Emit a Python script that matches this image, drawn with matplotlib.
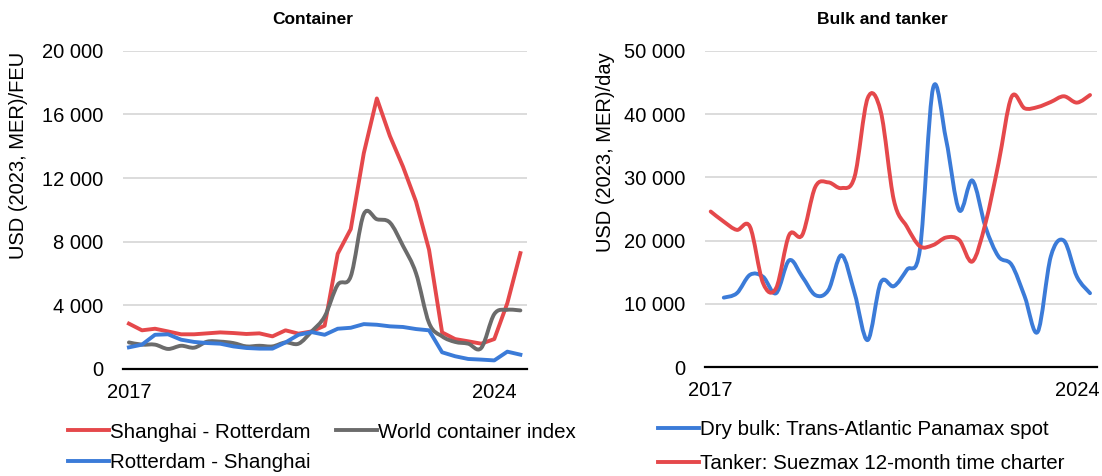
import numpy as np
import matplotlib.pyplot as plt
from matplotlib.path import Path
from matplotlib.patches import PathPatch
from matplotlib.lines import Line2D
from matplotlib.ticker import FuncFormatter

plt.rcParams['font.family'] = ['Liberation Sans', 'DejaVu Sans']

# Quarterly data, 2017Q1 onwards
years_label = ['2017', '2024']
label_idx = [0, 28]

# Container freight rates, USD (2023, MER)/FEU, 2017Q1 - 2024Q3
shanghai_rotterdam = [2850, 2430, 2530, 2360, 2180, 2180, 2240, 2300, 2260, 2200,
                      2240, 2050, 2430, 2220, 2360, 2720, 7240, 8790, 13560, 17000,
                      14640, 12720, 10520, 7490, 2300, 1880, 1740, 1590, 1880, 4140, 7280]
rotterdam_shanghai = [1360, 1530, 2150, 2180, 1840, 1700, 1630, 1590, 1420, 1320,
                      1280, 1280, 1670, 2150, 2320, 2150, 2530, 2590, 2820, 2780,
                      2680, 2640, 2510, 2430, 1050, 800, 630, 590, 540, 1090, 900]
world_container = [1670, 1530, 1530, 1260, 1460, 1340, 1720, 1720, 1630, 1420,
                   1460, 1420, 1670, 1590, 2360, 3300, 5290, 5820, 9730, 9410,
                   9200, 7740, 6020, 2890, 2050, 1700, 1590, 1320, 3450, 3720, 3680]

# Bulk and tanker, USD (2023, MER)/day, 2017Q1 - 2024Q2 (dry bulk from 2017Q2)
dry_bulk = [11000, 11700, 14600, 14300, 11700, 16900, 14300, 11400, 12200, 17700,
            11700, 4300, 13400, 12800, 15400, 18700, 44100, 35900, 24800, 29500,
            22200, 17500, 16200, 11200, 5600, 17500, 20000, 14300, 11700]
tanker = [24600, 23000, 21700, 22200, 13300, 12500, 20900, 20900, 28500, 29200,
          28300, 30100, 42500, 40400, 26400, 22200, 19100, 19300, 20500, 20100,
          16700, 22700, 32200, 42700, 40900, 41100, 41900, 42800, 41800, 43000]

red = '#E5484B'
blue = '#3B7BD8'
gray = '#6B6B6B'
lw = 2.8
fs = 14.5


def smooth_path(x, y):
    # Bezier path through the points (spreadsheet-style smoothed line)
    pts = np.column_stack([x, y]).astype(float)
    n = len(pts)
    verts = [pts[0]]
    codes = [Path.MOVETO]
    for i in range(n - 1):
        p0 = pts[i - 1] if i > 0 else pts[i]
        p1 = pts[i]
        p2 = pts[i + 1]
        p3 = pts[i + 2] if i + 2 < n else pts[i + 1]
        verts += [p1 + (p2 - p0) / 6, p2 - (p3 - p1) / 6, p2]
        codes += [Path.CURVE4] * 3
    return Path(verts, codes)


def add_smooth(ax, x, y, color):
    ax.add_patch(PathPatch(smooth_path(x, y), fill=False, edgecolor=color, lw=lw,
                           capstyle='round', joinstyle='round', zorder=3))


def style(ax, ymax, step):
    ax.set_ylim(0, ymax)
    ax.set_yticks(np.arange(0, ymax + 1, step))
    ax.yaxis.set_major_formatter(FuncFormatter(lambda v, p: f"{int(v):,}".replace(",", " ")))
    ax.grid(axis='y', color='#D9D9D9', lw=1.3)
    ax.set_axisbelow(True)
    for s in ['top', 'right', 'left']:
        ax.spines[s].set_visible(False)
    ax.spines['bottom'].set_linewidth(1.6)
    ax.spines['bottom'].set_zorder(4)
    ax.set_xticks(label_idx)
    ax.set_xticklabels(years_label)
    ax.tick_params(axis='both', length=0, labelsize=fs)
    ax.tick_params(axis='x', pad=10)
    ax.tick_params(axis='y', pad=14)


fig = plt.figure(figsize=(11.02, 4.76), dpi=100)

# Container
ax1 = fig.add_axes([0.1113, 0.2248, 0.3666, 0.6687])
x = np.arange(len(shanghai_rotterdam))
ax1.plot(x, shanghai_rotterdam, color=red, lw=lw, solid_joinstyle='round', zorder=3)
add_smooth(ax1, x, world_container, gray)
ax1.plot(x, rotterdam_shanghai, color=blue, lw=lw, solid_joinstyle='round', zorder=3)
ax1.set_xlim(-0.48, 30.48)
style(ax1, 20000, 4000)
ax1.set_ylabel('USD (2023, MER)/FEU', fontsize=14.5)
ax1.yaxis.set_label_coords(-0.234, 0.67)
fig.text(0.284, 0.96, 'Container', ha='center', va='center', fontsize=12.5, fontweight='bold')

# Bulk and tanker
ax2 = fig.add_axes([0.6397, 0.2284, 0.3555, 0.6651])
xt = np.arange(len(tanker))
xd = np.arange(1, len(dry_bulk) + 1)
add_smooth(ax2, xd, dry_bulk, blue)
add_smooth(ax2, xt, tanker, red)
ax2.set_xlim(-0.44, 29.51)
style(ax2, 50000, 10000)
ax2.set_ylabel('USD (2023, MER)/day', fontsize=14.5)
ax2.yaxis.set_label_coords(-0.23, 0.68)
fig.text(0.801, 0.96, 'Bulk and tanker', ha='center', va='center', fontsize=12.5, fontweight='bold')

# Legends
h = lambda c: Line2D([], [], color=c, lw=lw)
leg_kw = dict(frameon=False, fontsize=14.8, handlelength=2.0, handletextpad=0.05,
              borderpad=0, borderaxespad=0, loc='upper left')
fig.legend([h(red), h(blue), h(gray)],
           ['Shanghai - Rotterdam', 'Rotterdam - Shanghai', 'World container index'],
           ncol=2, columnspacing=1.2, labelspacing=0.55,
           bbox_to_anchor=(0.062, 0.112), **leg_kw)
fig.legend([h(blue), h(red)],
           ['Dry bulk: Trans-Atlantic Panamax spot', 'Tanker: Suezmax 12-month time charter'],
           labelspacing=0.75, bbox_to_anchor=(0.597, 0.118), **leg_kw)

fig.savefig('out.png', dpi=100)
